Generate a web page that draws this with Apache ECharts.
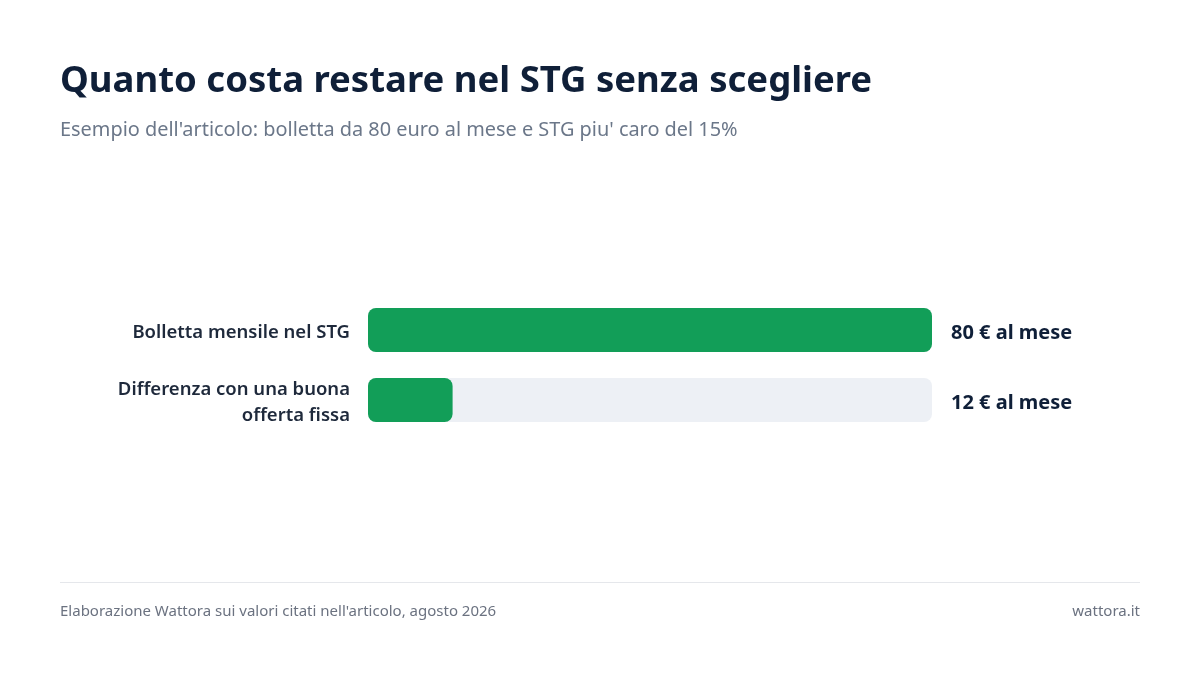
<!DOCTYPE html>
<html>
<head>
<meta charset="utf-8">
<script src="https://cdn.jsdelivr.net/npm/echarts@6/dist/echarts.min.js"></script>
<style>
html,body{margin:0;padding:0;background:#fff;}
#c{width:1200px;height:675px;}
</style>
</head>
<body>
<div id="c"></div>
<script>
const categories = ["Bolletta mensile nel STG", "Differenza con una buona\nofferta fissa"];
const values = [80, 12];
const valueLabels = ["80 € al mese", "12 € al mese"];
const axisMax = 80;

const FONT = "Noto Sans";
const chart = echarts.init(document.getElementById('c'), null, {renderer: 'canvas'});
chart.setOption({
  backgroundColor: '#ffffff',
  animation: false,
  textStyle: {fontFamily: FONT},
  title: [
    {text: 'Quanto costa restare nel STG senza scegliere', left: 60, top: 63, padding: 0,
     textStyle: {fontFamily: FONT, fontSize: 36.5, fontWeight: 'bold', color: '#0f1f38'}},
    {text: "Esempio dell'articolo: bolletta da 80 euro al mese e STG piu' caro del 15%", left: 60, top: 120, padding: 0,
     textStyle: {fontFamily: FONT, fontSize: 19.9, fontWeight: 'normal', color: '#6b7789'}},
    {text: "Elaborazione Wattora sui valori citati nell'articolo, agosto 2026", left: 60, top: 604, padding: 0,
     textStyle: {fontFamily: FONT, fontSize: 15, fontWeight: 'normal', color: '#6b7280'}},
    {text: 'wattora.it', right: 60, top: 604, padding: 0,
     textStyle: {fontFamily: FONT, fontSize: 15, fontWeight: 'normal', color: '#6b7280'}}
  ],
  graphic: [
    {type: 'line', shape: {x1: 60, y1: 582.5, x2: 1140, y2: 582.5}, style: {stroke: '#e5e7eb', lineWidth: 1}}
  ],
  grid: {left: 368, right: 268, top: 295, bottom: 240},
  xAxis: {type: 'value', min: 0, max: axisMax, show: false},
  yAxis: {
    type: 'category', data: categories, inverse: true,
    axisLine: {show: false}, axisTick: {show: false}, splitLine: {show: false},
    axisLabel: {show: false}
  },
  series: [
    {
      type: 'bar', data: categories.map(() => axisMax), barWidth: 44, barGap: '-100%',
      itemStyle: {color: '#edf0f5', borderRadius: 8}, silent: true,
      label: {show: true, position: 'right', distance: 19, offset: [0, 3], fontFamily: FONT, fontSize: 20, fontWeight: 'bold', color: '#0f1f38',
        formatter: p => valueLabels[p.dataIndex]}
    },
    {
      type: 'bar', data: values, barWidth: 44,
      itemStyle: {color: '#129e58', borderRadius: 8},
      label: {show: true, position: 'left', distance: 18, offset: [0, 3], align: 'right', lineHeight: 26,
        fontFamily: FONT, fontSize: 18.5, fontWeight: 600, color: '#1e293b',
        formatter: p => categories[p.dataIndex]}
    }
  ]
});
</script>
</body>
</html>
